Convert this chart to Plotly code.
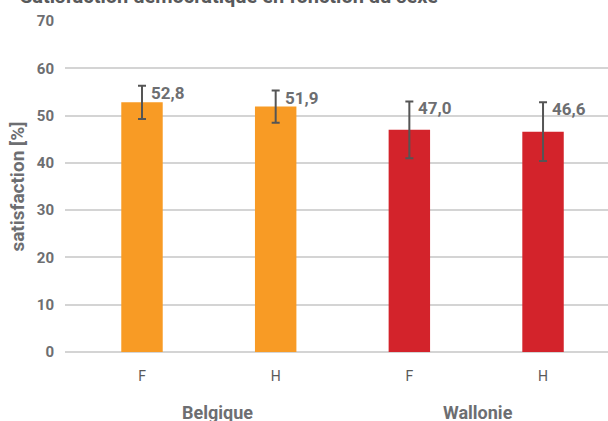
import plotly.graph_objects as go

groups = ["Belgique", "Wallonie"]
sexes = ["F", "H", "F", "H"]
group_of_bar = ["Belgique", "Belgique", "Wallonie", "Wallonie"]
values = [52.8, 51.9, 47.0, 46.6]
errors = [3.5, 3.4, 6.0, 6.2]
labels = ["52,8", "51,9", "47,0", "46,6"]
colors = ["#F89B25", "#F89B25", "#D3232B", "#D3232B"]
yticks = [0, 10, 20, 30, 40, 50, 60, 70]

FONT = "Roboto, sans-serif"
GRAY = "#6d6e71"

xpos = list(range(len(values)))

fig = go.Figure()
fig.add_trace(go.Bar(
    x=xpos, y=values, width=0.31,
    marker=dict(color=colors, line=dict(width=0)),
    error_y=dict(type="data", array=errors, visible=True,
                 color="#555555", thickness=2, width=4),
    showlegend=False, hoverinfo="skip",
))

for xi, v, e, lab in zip(xpos, values, errors, labels):
    fig.add_annotation(x=xi, y=v + e, text=lab, showarrow=False,
                       xanchor="left", yanchor="middle", xshift=7, yshift=-7,
                       font=dict(family=FONT, size=17, color=GRAY, weight="bold"))

group_shift = [9, 2]
for gi, g in enumerate(groups):
    idx = [i for i, gg in enumerate(group_of_bar) if gg == g]
    cx = sum(idx) / len(idx)
    fig.add_annotation(x=cx, xref="x", y=0, yref="paper", text=g, showarrow=False,
                       yanchor="middle", yshift=-60, xshift=group_shift[gi],
                       font=dict(family=FONT, size=18, color=GRAY, weight="bold"))

fig.add_annotation(x=-0.087, xref="paper", y=1, yref="paper",
                   text="Satisfaction démocratique en fonction du sexe",
                   showarrow=False, xanchor="left", yanchor="bottom", yshift=11,
                   font=dict(family=FONT, size=20, color="#58595b", weight="bold"))

fig.update_layout(
    width=608, height=421,
    margin=dict(l=65, r=0, t=21, b=69, pad=0),
    plot_bgcolor="white", paper_bgcolor="white",
    font=dict(family=FONT, color=GRAY),
    xaxis=dict(range=[-0.576, 3.486], tickvals=xpos, ticktext=sexes,
               showgrid=False, zeroline=False, showline=False,
               tickfont=dict(family=FONT, size=14, color="#595959"),
               ticks="", ticklabelstandoff=14, fixedrange=True),
    yaxis=dict(range=[0, 70], tickvals=yticks, showgrid=True,
               gridcolor="#d4d4d4", gridwidth=1.5, zeroline=True,
               zerolinecolor="#d4d4d4", zerolinewidth=1.5, showline=False,
               tickfont=dict(family=FONT, size=15, color=GRAY, weight="bold"),
               ticks="", ticklabelstandoff=10, fixedrange=True,
               title=dict(text="satisfaction [%]", standoff=7,
                          font=dict(family=FONT, size=19, color=GRAY, weight="bold"))),
)

fig.write_html("out.html", config={"displayModeBar": False},
               post_script="document.body.style.margin='0';")
